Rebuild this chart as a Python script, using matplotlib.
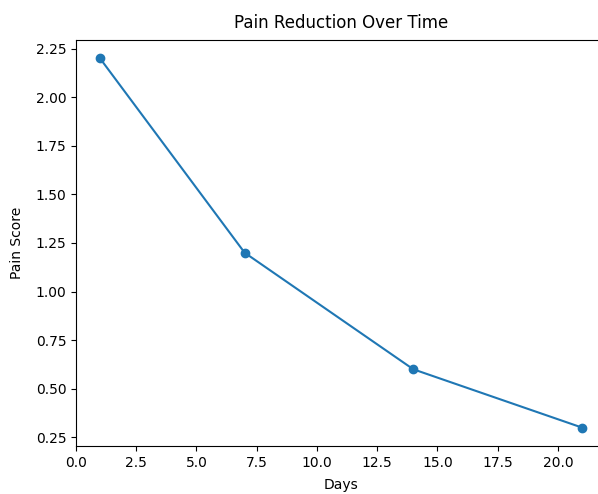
import matplotlib
matplotlib.use("Agg")
import matplotlib.pyplot as plt

days = [1, 7, 14, 21]
pain_score = [2.2, 1.2, 0.6, 0.3]

W, H = 598, 494
fig = plt.figure(figsize=(W / 100, H / 100), dpi=100)
ax = fig.add_axes([76 / W, 1 - 446 / H, 530 / W, 406 / H])
ax.plot(days, pain_score, marker='o')
ax.set_title('Pain Reduction Over Time', pad=9)
ax.set_xlabel('Days', labelpad=6)
ax.set_ylabel('Pain Score', labelpad=8)
fig.savefig('out.png', dpi=100)
